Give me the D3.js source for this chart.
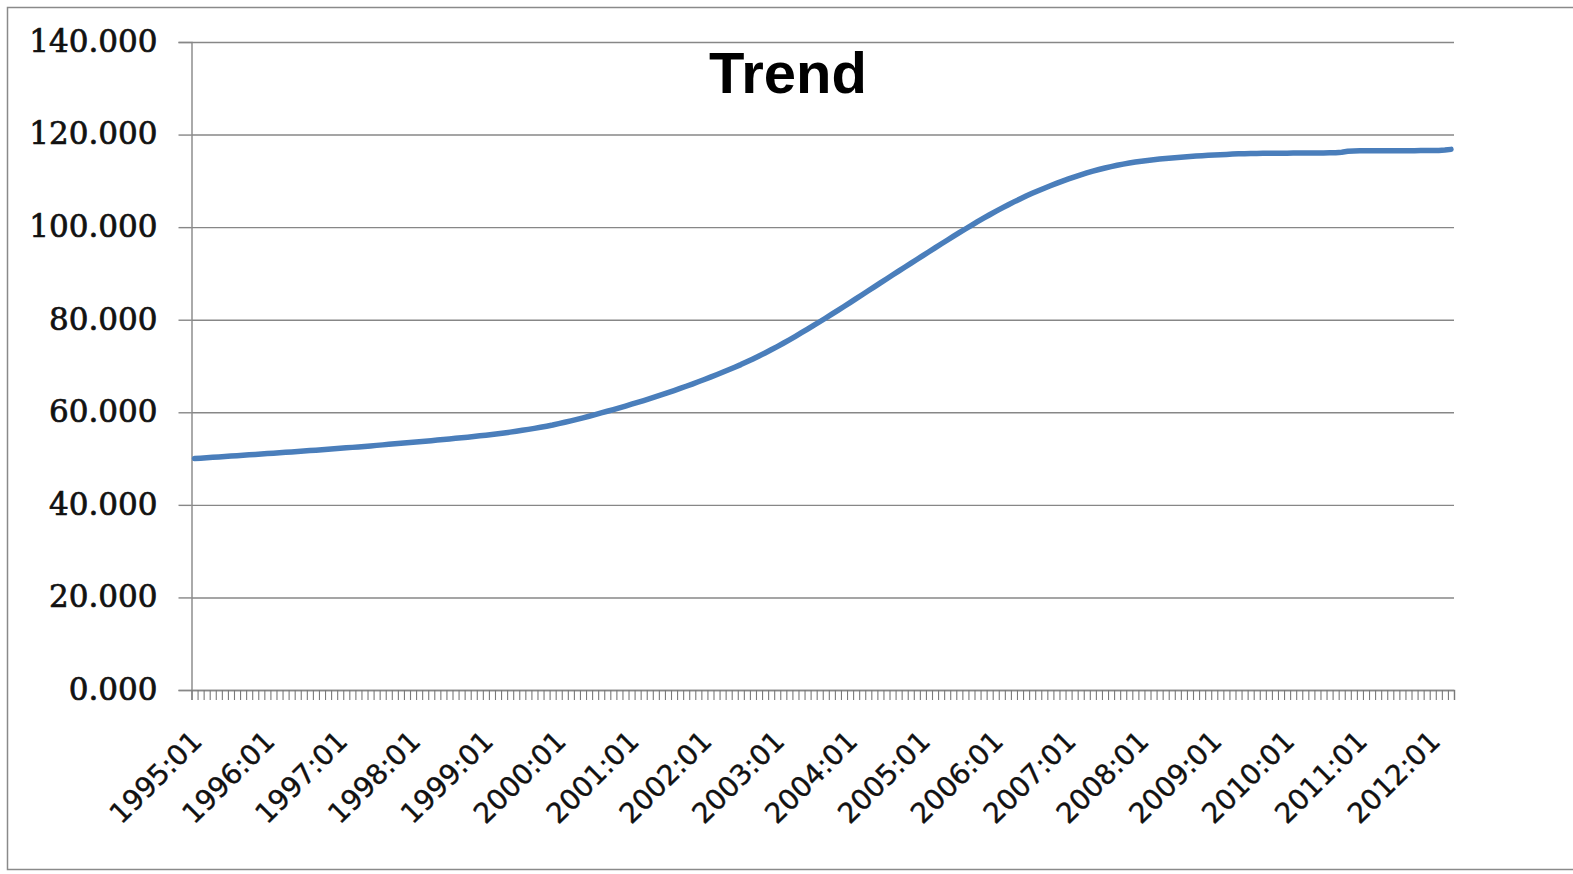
<!DOCTYPE html>
<html><head><meta charset="utf-8">
<script src="https://cdn.jsdelivr.net/npm/d3@7"></script>
<style>html,body{margin:0;padding:0;background:#fff;overflow:hidden}</style>
</head><body><svg id="c" width="1573" height="874"></svg>
<script>
// ---- data ----
const years = [1995,1996,1997,1998,1999,2000,2001,2002,2003,2004,2005,2006,2007,2008,2009,2010,2011,2012];
const monthCodes = ["01","02","03","04","05","06","07","08","09","10","11","12"];
const lastMonthCount = 208;
const trend = [
 50.00,50.09,50.18,50.27,50.36,50.45,50.54,50.63,50.72,50.81,50.90,50.99,
 51.08,51.17,51.26,51.35,51.44,51.53,51.62,51.72,51.82,51.92,52.02,52.12,
 52.22,52.32,52.42,52.52,52.63,52.74,52.85,52.96,53.07,53.18,53.30,53.42,
 53.53,53.64,53.75,53.87,53.99,54.11,54.24,54.37,54.50,54.63,54.77,54.91,
 55.05,55.20,55.36,55.53,55.71,55.90,56.10,56.31,56.53,56.76,57.00,57.25,
 57.55,57.85,58.16,58.48,58.81,59.15,59.50,59.86,60.22,60.59,60.97,61.35,
 61.74,62.14,62.54,62.95,63.37,63.80,64.24,64.69,65.15,65.62,66.10,66.59,
 67.09,67.60,68.12,68.65,69.19,69.74,70.30,70.90,71.52,72.16,72.82,73.50,
 74.20,74.92,75.66,76.42,77.19,77.97,78.76,79.56,80.37,81.19,82.02,82.86,
 83.70,84.55,85.40,86.25,87.10,87.95,88.80,89.65,90.50,91.34,92.18,93.02,
 93.86,94.69,95.52,96.35,97.17,97.99,98.80,99.60,100.39,101.17,101.93,102.68,
 103.41,104.11,104.79,105.45,106.09,106.71,107.30,107.87,108.42,108.95,109.46,109.95,
 110.42,110.87,111.30,111.71,112.09,112.45,112.78,113.09,113.37,113.62,113.85,114.06,
 114.25,114.42,114.57,114.71,114.84,114.96,115.07,115.17,115.26,115.35,115.43,115.51,
 115.58,115.65,115.72,115.78,115.84,115.88,115.91,115.93,115.95,115.96,115.97,115.98,
 115.99,116.00,116.00,116.01,116.02,116.03,116.04,116.05,116.07,116.20,116.40,116.45,
 116.48,116.49,116.50,116.50,116.51,116.51,116.52,116.52,116.53,116.53,116.54,116.54,
 116.55,116.58,116.65,116.80
];
const yTicks = [0,20,40,60,80,100,120,140];
const titleText = "Trend";
const categories = years.flatMap(y => monthCodes.map(m => y + ":" + m)).slice(0, lastMonthCount);
const labelCategories = years.map(y => y + ":01");

// ---- layout ----
const L = 191.5, R = 1454, T = 42, B = 690;
const gridCol = "#878787";
const svg = d3.select("#c");

svg.append("rect").attr("x",7.5).attr("y",7.5).attr("width",1620).attr("height",862)
  .attr("fill","#fff").attr("stroke","#8a8a8a").attr("stroke-width",1.5);

const x = d3.scaleBand().domain(categories).range([L, R]).paddingInner(0).paddingOuter(0);
const xb = d3.scaleLinear().domain([0, categories.length]).range([L, R]);
const y = d3.scaleLinear().domain([0, 140]).range([B, T]);

// gridlines + y axis
const yAx = svg.append("g").attr("transform", `translate(${L},0)`)
  .call(d3.axisLeft(y).tickValues(yTicks).tickFormat(d3.format(".3f")).tickSize(13).tickPadding(21));
yAx.select(".domain").attr("stroke", gridCol).attr("stroke-width",1.4);
yAx.selectAll(".tick line").attr("stroke", gridCol).attr("stroke-width",1.4);
yAx.selectAll(".tick text").attr("font-family","'DejaVu Serif', serif").attr("font-size",31)
  .attr("fill","#111").attr("stroke","#111").attr("stroke-width",0.7).attr("dy","0.3em");
yAx.selectAll(".tick").append("line").attr("x1",0).attr("x2",R-L)
  .attr("stroke",gridCol).attr("stroke-width",1.4);

// x axis boundary ticks
const xAx = svg.append("g").attr("transform", `translate(0,${B})`)
  .call(d3.axisBottom(xb).tickValues(d3.range(categories.length+1)).tickFormat("").tickSize(10));
xAx.select(".domain").attr("stroke", gridCol).attr("stroke-width",1.4);
xAx.selectAll(".tick line").attr("stroke", "#7a7a7a").attr("stroke-width",1.1);

// x labels
svg.append("g").selectAll("text").data(labelCategories).join("text")
  .attr("transform", d => `translate(${x(d) + x.bandwidth()/2 + 9},${B + 53}) rotate(-45)`)
  .attr("text-anchor","end")
  .attr("font-family","'DejaVu Sans', sans-serif").attr("font-size",28).attr("fill","#111")
  .attr("stroke","#111").attr("stroke-width",0.4)
  .text(d => d);

// line
const line = d3.line()
  .x((d,i) => x(categories[i]) + x.bandwidth()/2)
  .y(d => y(d));
svg.append("path").datum(trend).attr("d", line)
  .attr("fill","none").attr("stroke","#4A7EBB").attr("stroke-width",5.5)
  .attr("stroke-linejoin","round").attr("stroke-linecap","round");

// title
svg.append("text").attr("x",788).attr("y",93).attr("text-anchor","middle")
  .attr("font-family","'Liberation Sans', Arial, sans-serif").attr("font-weight","bold")
  .attr("font-size",58).attr("fill","#000").text(titleText);
</script></body></html>
